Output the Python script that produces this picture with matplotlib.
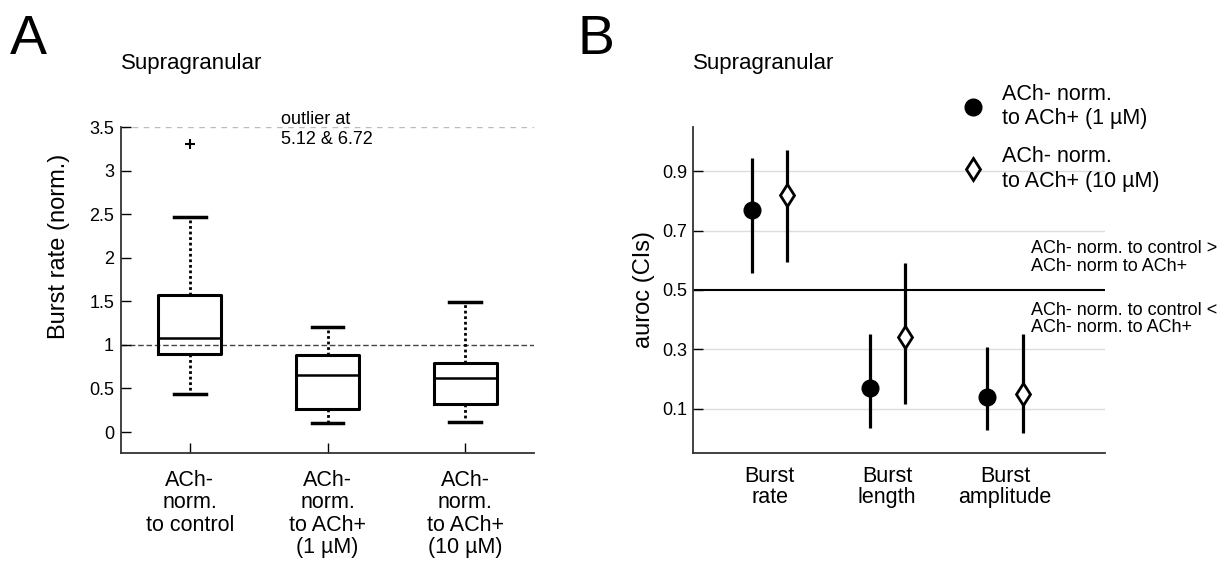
#! /usr/bin/env python
# Burst rate boxplots (A) and auroc CIs (B), supragranular layer

import numpy as np
import matplotlib.pyplot as plt
from matplotlib.lines import Line2D

plt.rcParams['font.family'] = ['Liberation Sans', 'DejaVu Sans']

# --- panel A data: box stats
box_labels = ['ACh-\nnorm.\nto control',
              'ACh-\nnorm.\nto ACh+\n(1 µM)',
              'ACh-\nnorm.\nto ACh+\n(10 µM)']
box_med = [1.08, 0.65, 0.62]
box_q1 = [0.90, 0.27, 0.32]
box_q3 = [1.57, 0.88, 0.79]
box_lo = [0.44, 0.10, 0.12]
box_hi = [2.47, 1.20, 1.49]
box_fliers = [[3.31], [], []]

# --- panel B data: auroc and confidence intervals
cat_labels = ['Burst\nrate', 'Burst\nlength', 'Burst\namplitude']
auroc_1uM = [0.77, 0.17, 0.14]
ci_lo_1uM = [0.556, 0.036, 0.026]
ci_hi_1uM = [0.944, 0.353, 0.306]
auroc_10uM = [0.82, 0.34, 0.15]
ci_lo_10uM = [0.596, 0.117, 0.019]
ci_hi_10uM = [0.974, 0.592, 0.353]

W, H = 1231, 564
fig = plt.figure(figsize=(W / 100, H / 100), dpi=100)

def fx(px):
    return px / W

def fy(py):
    return 1 - py / H

axA = fig.add_axes([fx(121), fy(453), fx(534) - fx(121), fy(127) - fy(453)])
axB = fig.add_axes([fx(693), fy(453), fx(1105) - fx(693), fy(127) - fy(453)])

# ---------------- panel A
stats = []
for i in range(3):
    stats.append(dict(med=box_med[i], q1=box_q1[i], q3=box_q3[i],
                      whislo=box_lo[i], whishi=box_hi[i], fliers=box_fliers[i]))
pos = [1, 2, 3]
axA.axhline(1, color='#444444', lw=1, ls=(0, (4, 2)), zorder=1)
axA.axhline(3.5, color='#bbbbbb', lw=1, ls=(0, (4, 4)), zorder=1)
axA.bxp(stats, positions=pos, widths=0.46, capwidths=0.23,
        boxprops=dict(color='black', lw=2.2),
        medianprops=dict(color='black', lw=1.8),
        whiskerprops=dict(color='black', lw=2, ls=(0, (1, 1))),
        capprops=dict(color='black', lw=2.5),
        flierprops=dict(marker='+', markeredgecolor='black', markersize=7, mew=1.5),
        zorder=3)
axA.set_xlim(0.5, 3.5)
axA.set_ylim(-0.24, 3.5)
axA.set_yticks(np.arange(0, 3.51, 0.5))
axA.set_yticklabels(['%g' % v for v in np.arange(0, 3.51, 0.5)])
axA.set_xticks(pos)
axA.set_xticklabels(box_labels, fontsize=15.5, linespacing=1.1)
axA.tick_params(axis='y', direction='in', length=7, width=1, pad=5, labelsize=13)
axA.tick_params(axis='x', direction='in', length=7, width=1, pad=12)
for s in ['top', 'right']:
    axA.spines[s].set_visible(False)
for s in ['left', 'bottom']:
    axA.spines[s].set_linewidth(1.3)
    axA.spines[s].set_color('#333333')
axA.set_ylabel('Burst rate (norm.)', fontsize=17)
axA.yaxis.set_label_coords(-0.123, 0.635)
axA.text(1.66, 3.68, 'outlier at\n5.12 & 6.72', fontsize=13, va='top', ha='left',
         linespacing=1.2, clip_on=False)

# ---------------- panel B
x = np.arange(1, 4)
off = 0.15
for y in [0.1, 0.3, 0.7, 0.9]:
    axB.axhline(y, color='#dddddd', lw=1, zorder=0)
axB.axhline(0.5, color='black', lw=1.5, zorder=1)
axB.vlines(x - off, ci_lo_1uM, ci_hi_1uM, color='black', lw=2.3, zorder=2)
axB.vlines(x + off, ci_lo_10uM, ci_hi_10uM, color='black', lw=2.3, zorder=2)
axB.plot(x - off, auroc_1uM, 'o', color='black', markersize=12, zorder=3)
axB.plot(x + off, auroc_10uM, 'd', markerfacecolor='white', markeredgecolor='black',
         markersize=11.5, mew=2, zorder=3)
axB.set_xlim(0.35, 3.85)
axB.set_ylim(-0.05, 1.05)
axB.set_yticks([0.1, 0.3, 0.5, 0.7, 0.9])
axB.set_xticks(x)
axB.set_xticklabels(cat_labels, fontsize=15.5, linespacing=1.05)
axB.tick_params(axis='y', direction='in', length=7, width=1, pad=4, labelsize=13)
axB.tick_params(axis='x', length=0, pad=9)
for s in ['top', 'right']:
    axB.spines[s].set_visible(False)
for s in ['left', 'bottom']:
    axB.spines[s].set_linewidth(1.3)
    axB.spines[s].set_color('#333333')
axB.set_ylabel('auroc (CIs)', fontsize=17)
axB.yaxis.set_label_coords(-0.092, 0.5)
axB.text(3.22, 0.61, 'ACh- norm. to control >\nACh- norm to ACh+', fontsize=13,
         va='center', ha='left', linespacing=1.05, clip_on=False)
axB.text(3.22, 0.402, 'ACh- norm. to control <\nACh- norm. to ACh+', fontsize=13,
         va='center', ha='left', linespacing=1.05, clip_on=False)

h1 = Line2D([], [], ls='none', marker='o', color='black', markersize=12)
h2 = Line2D([], [], ls='none', marker='d', markerfacecolor='white',
            markeredgecolor='black', markersize=11.5, mew=2)
axB.legend([h1, h2], ['ACh- norm.\nto ACh+ (1 µM)', 'ACh- norm.\nto ACh+ (10 µM)'],
           loc='upper left', bbox_to_anchor=(fx(962), fy(84)),
           bbox_transform=fig.transFigure, frameon=False, fontsize=15.5,
           handlelength=1.0, handletextpad=0.85, labelspacing=0.8, borderpad=0,
           borderaxespad=0)

# ---------------- headings
fig.text(fx(121), fy(69), 'Supragranular', fontsize=16, va='baseline')
fig.text(fx(693), fy(69), 'Supragranular', fontsize=16, va='baseline')
fig.text(fx(10), fy(54), 'A', fontsize=40, va='baseline')
fig.text(fx(578), fy(54), 'B', fontsize=40, va='baseline')

fig.savefig('out.png', dpi=100)
